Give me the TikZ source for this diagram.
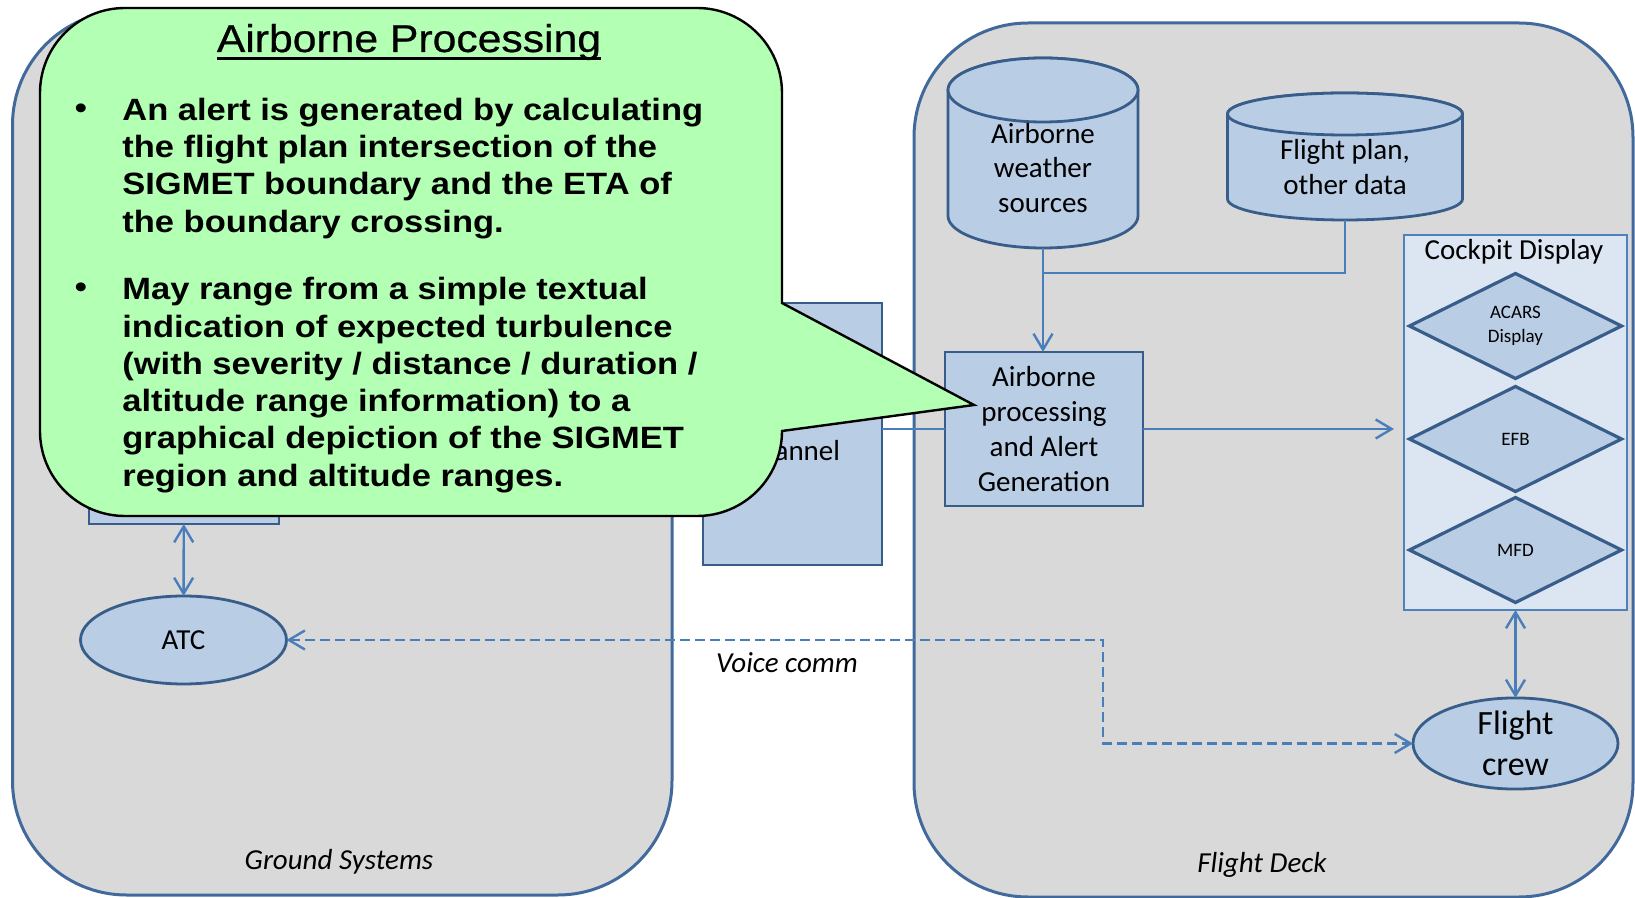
\documentclass[tikz,border=0pt]{standalone}
\usepackage{fontspec}
\setmainfont{Carlito}
\newfontfamily\calloutfont[FakeStretch=1.12]{Liberation Sans}
\newfontfamily\headfont[FakeStretch=1.1,FakeBold=0.6]{Liberation Sans}
\usetikzlibrary{shapes,arrows.meta,positioning}

\definecolor{boxfill}{HTML}{B9CDE5}
\definecolor{boxline}{HTML}{385D8A}
\definecolor{linkblue}{HTML}{4A7EBB}
\definecolor{areafill}{HTML}{D9D9D9}
\definecolor{arealine}{HTML}{41699C}
\definecolor{panelfill}{HTML}{DCE6F2}
\definecolor{panelline}{HTML}{4F81BD}
\definecolor{calloutfill}{HTML}{B3FFB3}

\newcommand{\headline}[1]{\setbox0\hbox{#1}\rlap{\rule[-4pt]{\wd0}{1.5pt}}\box0}

\begin{document}
\begin{tikzpicture}[x=0.5pt,y=-0.5pt]

  \tikzset{area node/.style={rectangle, draw=arealine, fill=areafill,
  		line width=1.5pt, rounded corners=57pt, outer sep=0pt}, }
  \tikzset{main node/.style={rectangle, draw=boxline, fill=boxfill,
  		line width=1.4pt, inner sep=0pt, outer sep=0pt, align=center,
  		font=\fontsize{14.5}{17.4}\selectfont}, }
  \tikzset{actor node/.style={ellipse, draw=boxline, fill=boxfill,
  		line width=1.4pt, inner sep=0pt, outer sep=0pt, align=center,
  		font=\fontsize{14.5}{17.4}\selectfont}, }
  \tikzset{disp node/.style={diamond, draw=boxline, fill=boxfill,
  		line width=1.6pt, inner sep=0pt, outer sep=0pt, aspect=2,
  		minimum width=106pt, minimum height=52.5pt, align=center,
  		font=\fontsize{9.5}{12}\selectfont}, }
  \tikzset{store/.style={draw=boxline, fill=boxfill, line width=1.4pt}, }
  \tikzset{txt node/.style={inner sep=0pt, align=center,
  		font=\fontsize{14.5}{17.4}\selectfont}, }
  \tikzset{area label/.style={inner sep=0pt,
  		font=\fontsize{14.5}{17.4}\selectfont\itshape}, }
  \tikzset{bullet node/.style={inner sep=0pt, align=left,
  		font=\calloutfont\bfseries\fontsize{15.4}{18.65}\selectfont}, }
  \tikzset{linea/.style={draw=linkblue, line width=1.2pt,
  		-{Straight Barb[length=8pt,width=9.5pt]}}, }
  \tikzset{lineb/.style={draw=linkblue, line width=1.2pt,
  		{Straight Barb[length=8pt,width=9.5pt]}-{Straight Barb[length=8pt,width=9.5pt]}}, }
  \tikzset{plain/.style={draw=linkblue, line width=1.2pt}, }

\useasboundingbox (0,0) rectangle (1635,898);

% ground and deck areas
\node[area node, minimum width=329.75pt, minimum height=442pt] (ground) at (342.25,453) {};
\node[area node, minimum width=359.5pt, minimum height=437pt] (deck) at (1273.5,460) {};
\node[area label] (glbl) at (339,862) {Ground Systems};
\node[area label] (dlbl) at (1262,865) {Flight Deck};

\node[main node, minimum width=95pt, minimum height=112pt] (1) at (184,412) {};
\node[actor node, minimum width=103pt, minimum height=44pt] (2) at (183.5,640) {ATC};
\node[main node, minimum width=89.5pt, minimum height=131pt] (3) at (792.5,434) {};
\node[txt node] (3a) at (792,451) {Channel};

\node[main node, minimum width=99pt, minimum height=77pt] (4) at (1044,429)
  {Airborne\\processing\\and Alert\\Generation};
\node[rectangle, draw=panelline, fill=panelfill, line width=1.2pt, outer sep=0pt,
  minimum width=111.5pt, minimum height=187.5pt] (5) at (1515.5,422.5) {};
\node[txt node] (5a) at (1514,252) {Cockpit Display};
\node[disp node] (6) at (1515.5,326) {ACARS\\Display};
\node[disp node, below=4pt of 6] (7) {EFB};
\node[disp node, below=3pt of 7] (8) {MFD};
\node[actor node, minimum width=102.5pt, minimum height=40.5pt,
  font=\fontsize{17}{20.3}\selectfont] (9) at (1515.5,743.5) {Flight\\crew};

% data stores
\filldraw[store] (948,90) -- (948,216) arc[start angle=180,end angle=0,x radius=95,y radius=32]
  -- (1138,90) arc[start angle=0,end angle=-180,x radius=95,y radius=32] -- cycle;
\draw[store] (1043,90) ellipse[x radius=95,y radius=32];
\node[txt node] (10) at (1043,168) {Airborne\\weather\\sources};
\filldraw[store] (1227.5,114) -- (1227.5,199) arc[start angle=180,end angle=0,x radius=117.5,y radius=21]
  -- (1462.5,114) arc[start angle=0,end angle=-180,x radius=117.5,y radius=21] -- cycle;
\draw[store] (1345,114) ellipse[x radius=117.5,y radius=21];
\node[txt node] (11) at (1345,167) {Flight plan,\\other data};
\coordinate (10b) at (1043,248);
\coordinate (11b) at (1345,220);
\coordinate (m) at (1043,273);
\coordinate (vc) at (1103,640);

\draw[linea] (10b) -- (10b |- 4.north);
\draw[plain] (11b) |- (m);
\draw[linea, shorten >=5pt] (4.east) -- (4.east -| 5.west);
\draw[plain] (4.west -| 3.east) -- (4.west);
\foreach \x/\y in {1/2,5/9}
  \path[lineb] (\x) edge (\y);
\draw[lineb, dash pattern=on 5pt off 2.5pt] (2.east) -- (vc) |- (9.west);
\node[area label] (12) at (787,663) {Voice comm};

% callout
\draw[fill=calloutfill, line width=1.2pt] (40,93) arc[start angle=180,end angle=270,radius=85]
  -- (697,8) arc[start angle=270,end angle=360,radius=85] -- (782,303) -- (974,405)
  -- (782,431) arc[start angle=0,end angle=90,radius=85] -- (125,516)
  arc[start angle=90,end angle=180,radius=85] -- cycle;
\node[inner sep=0pt, anchor=base, font=\headfont\fontsize{19.4}{23}\selectfont]
  (13) at (409,52) {\headline{Airborne Processing}};
\node[bullet node] (14) at (81,111) {\textbullet};
\node[bullet node, anchor=north west] (15) at (122,97.5)
  {An alert is generated by calculating\\the flight plan intersection of the\\SIGMET boundary and the ETA of\\the boundary crossing.};
\node[bullet node] (16) at (81,290) {\textbullet};
\node[bullet node, anchor=north west] (17) at (122,277)
  {May range from a simple textual\\indication of expected turbulence\\(with severity / distance / duration /\\altitude range information) to a\\graphical depiction of the SIGMET\\region and altitude ranges.};
%%
\end{tikzpicture}
\end{document}
